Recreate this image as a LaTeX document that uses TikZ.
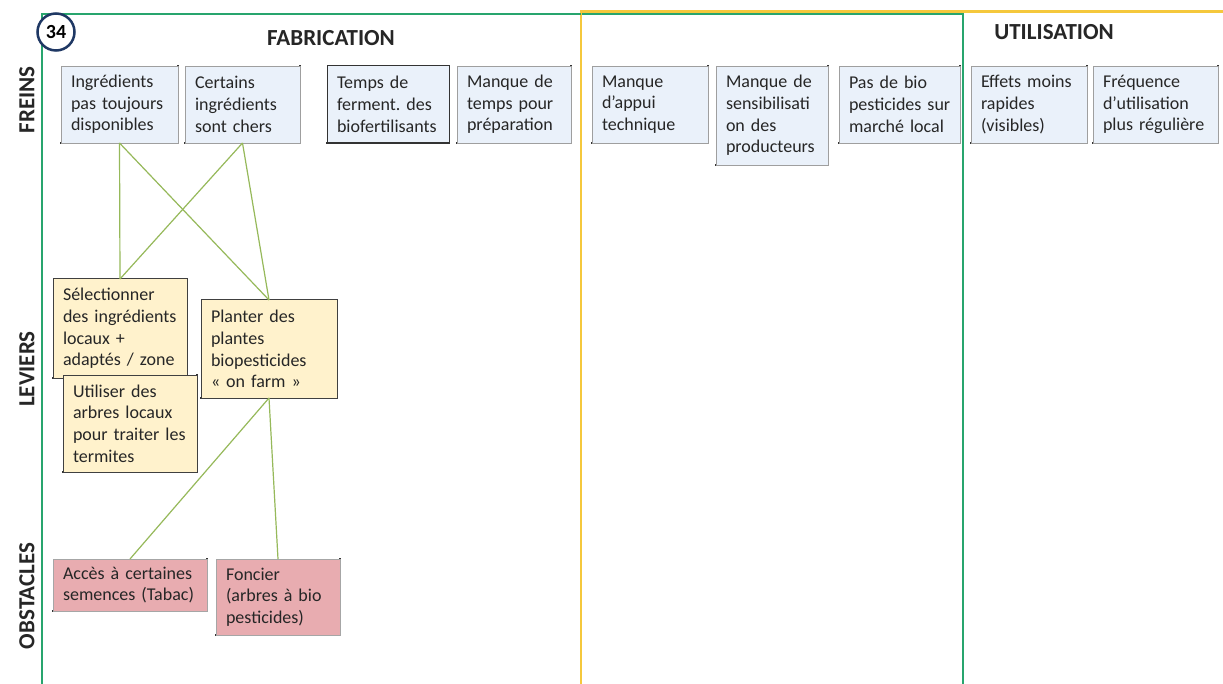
\documentclass[tikz,border=0pt]{standalone}
\usepackage{fontspec}
\setmainfont{Carlito}
\definecolor{freinfill}{RGB}{234,241,250}
\definecolor{levfill}{RGB}{255,242,204}
\definecolor{obsfill}{RGB}{232,172,176}
\definecolor{frgreen}{RGB}{40,165,110}
\definecolor{fryellow}{RGB}{245,200,60}
\definecolor{connc}{RGB}{150,185,90}
\definecolor{navy}{RGB}{31,56,100}
\tikzset{
  boxtxt/.style={font=\fontsize{18}{21.7}\selectfont, text=black!85, align=left,
    inner xsep=10pt, inner ysep=0pt, outer sep=0pt, anchor=north west},
  shadowed/.style={append after command={\pgfextra{
      \draw[black!80, line width=1.4pt, line cap=rect]
        (\tikzlastnode.north east) -- (\tikzlastnode.south east) -- (\tikzlastnode.south west);}}},
  freinbox/.style={boxtxt, fill=freinfill, draw=gray!75, line width=0.7pt, shadowed},
  freinboxdark/.style={boxtxt, fill=freinfill, draw=black!80, line width=1pt, shadowed},
  levbox/.style={boxtxt, fill=levfill, draw=black!75, line width=1pt, shadowed},
  obsbox/.style={boxtxt, fill=obsfill, draw=gray!70, line width=0.7pt, shadowed},
  conn/.style={draw=connc, line width=1.2pt},
  title/.style={font=\bfseries\fontsize{23}{23}\selectfont, text=black!85, inner sep=0pt},
  sidelabel/.style={font=\bfseries\fontsize{23}{23}\selectfont, text=black!85, inner sep=0pt, rotate=90},
  greenframe/.style={draw=frgreen, line width=2.5pt},
  yellowframe/.style={draw=fryellow, line width=2.5pt},
}
\begin{document}
\begin{tikzpicture}[x=1pt,y=-1pt]
\useasboundingbox (0,0) rectangle (1223,684);
\fill[white] (0,0) rectangle (1223,684);

% frames
\draw[greenframe] (42,684) -- (42,14) -- (963,14) -- (963,684);
\draw[yellowframe] (581,684) -- (581,11.5) -- (1223,11.5);
\draw[greenframe] (42,14) -- (581,14);

% titles
\node[title] (tfab) at (331,38.5) {FABRICATION};
\node[title] (tutil) at (1054,32) {UTILISATION};
\node[sidelabel] (sfreins) at (27,100) {FREINS};
\node[sidelabel] (sleviers) at (27,369) {LEVIERS};
\node[sidelabel] (sobst) at (27,596) {OBSTACLES};

% freins
\node[freinbox, text width=97pt, minimum height=77pt] (f1) at (61,66) {Ingrédients\\pas~toujours\\disponibles};
\node[freinbox, text width=95pt, minimum height=77pt] (f2) at (185,66) {Certains\\ingrédients\\sont~chers};
\node[freinboxdark, text width=102pt, minimum height=77pt] (f3) at (327,66) {Temps~de\\ferment.~des\\biofertilisants};
\node[freinbox, text width=94pt, minimum height=77pt] (f4) at (457,66) {Manque~de\\temps~pour\\préparation};
\node[freinbox, text width=96pt, minimum height=77pt] (f5) at (592,66) {Manque\\d’appui\\technique};
\node[freinbox, text width=92pt, minimum height=99pt] (f6) at (716,66) {Manque~de\\sensibilisati\\on~des\\producteurs};
\node[freinbox, text width=101pt, minimum height=77pt] (f7) at (839,66) {Pas~de~bio\\pesticides~sur\\marché~local};
\node[freinbox, text width=96pt, minimum height=77pt] (f8) at (971,66) {Effets~moins\\rapides\\(visibles)};
\node[freinbox, text width=105pt, minimum height=77pt] (f9) at (1093,66) {Fréquence\\d’utilisation\\plus~régulière};

% leviers
\node[levbox, text width=114pt, minimum height=99pt] (l1) at (53,279) {Sélectionner\\des~ingrédients\\locaux~+\\adaptés~/~zone};
\node[levbox, text width=114pt, minimum height=97pt] (l2) at (63,375) {Utiliser~des\\arbres~locaux\\pour~traiter~les\\termites};
\node[levbox, text width=116pt, minimum height=98pt] (l3) at (201,300) {Planter~des\\plantes\\biopesticides\\«~on~farm~»};

% obstacles
\node[obsbox, text width=134pt, minimum height=52pt] (o1) at (53,559) {Accès~à~certaines\\semences~(Tabac)};
\node[obsbox, text width=104pt, minimum height=76pt] (o2) at (216,559) {Foncier\\(arbres~à~bio\\pesticides)};

% connectors
\draw[conn] (f1.south) -- (l1.north);
\draw[conn] (f1.south) -- (l3.north);
\draw[conn] (f2.south) -- (l1.north);
\draw[conn] (f2.south) -- (l3.north);
\draw[conn] (l3.south) -- (o1.north);
\draw[conn] (l3.south) -- (o2.north);

% number badge
\node[circle, draw=navy, line width=2.5pt, fill=white, minimum size=37pt, inner sep=0pt,
  font=\bfseries\fontsize{20}{20}\selectfont] (num) at (56,32) {34};
\end{tikzpicture}
\end{document}
